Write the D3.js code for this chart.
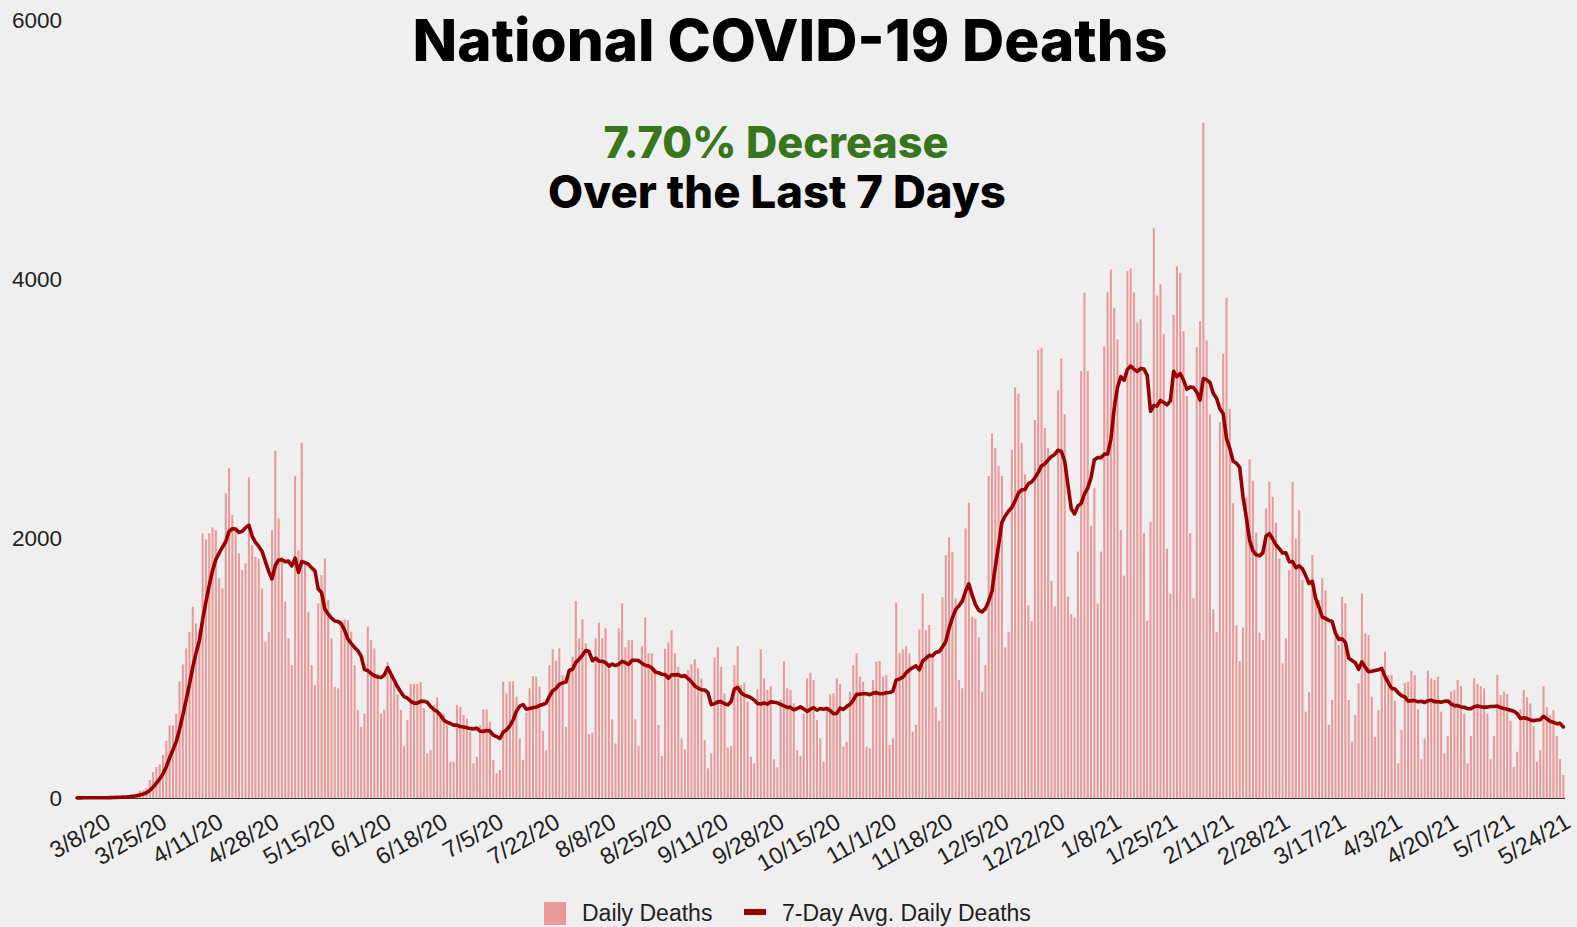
<!DOCTYPE html>
<html><head><meta charset="utf-8">
<script src="https://cdn.jsdelivr.net/npm/d3@7"></script>
<style>
html,body{margin:0;padding:0;background:#efefef;}
svg{display:block;}
</style></head><body>
<svg id="chart" width="1577" height="927"></svg>
<script>
// ---------------- DATA ----------------
const startDate = "2020-02-29";   // first day of the series
const dailyDeaths = [
  1,
  1, 4, 1, 3, 1, 2, 3,
  2, 4, 5, 8, 9, 11, 10,
  12, 18, 26, 33, 54, 60, 79,
  139, 200, 240, 260, 330, 440, 560,
  560, 650, 900, 1030, 1154, 1282, 1475,
  1347, 1300, 2041, 1994, 2041, 2087, 2066,
  1694, 1617, 2349, 2542, 2182, 2070, 1886,
  1758, 1809, 2472, 1950, 1860, 1847, 1616,
  1205, 1282, 2066, 2678, 2156, 1860, 1513,
  1231, 1025, 2482, 1912, 2740, 1800, 1436,
  1025, 871, 1501, 1719, 1847, 1526, 1231,
  858, 845, 1370, 1377, 1372, 1282, 1025,
  678, 549, 652, 1321, 1218, 1154, 961,
  650, 680, 1050, 980, 880, 800, 680,
  400, 600, 880, 880, 880, 894, 691,
  344, 370, 717, 776, 665, 652, 562,
  280, 280, 717, 704, 640, 614, 511,
  267, 318, 562, 683, 683, 588, 293,
  190, 215, 897, 807, 900, 900, 780,
  460, 293, 657, 846, 940, 936, 858,
  519, 370, 1025, 1146, 1059, 1154, 948,
  550, 1000, 1090, 1520, 1231, 1380, 1193,
  493, 504, 1231, 1352, 1231, 1308, 1000,
  607, 421, 1308, 1501, 1162, 1218, 1218,
  607, 401, 1172, 1393, 1116, 1116, 1000,
  563, 324, 1150, 1200, 1295, 1116, 1013,
  460, 375, 987, 1030, 1069, 1000, 922,
  447, 229, 344, 1084, 1162, 1013, 807,
  390, 401, 1025, 1172, 871, 889, 743,
  318, 267, 840, 1146, 922, 833, 864,
  298, 236, 760, 1056, 846, 833, 730,
  370, 324, 650, 922, 966, 910, 600,
  460, 280, 700, 800, 807, 922, 879,
  396, 434, 820, 1025, 1116, 936, 897,
  396, 383, 910, 1051, 1056, 936, 948,
  409, 460, 1506, 1116, 1146, 1172, 1116,
  512, 563, 1300, 1578, 1295, 1334, 1100,
  699, 596, 1547, 1874, 2010, 1899, 1540,
  910, 846, 2079, 2277, 1398, 1385, 1239,
  820, 1025, 2483, 2812, 2700, 2560, 2484,
  1161, 1282, 2686, 3167, 3118, 2740, 2498,
  1485, 1364, 2916, 3456, 3469, 2854, 2700,
  1674, 1477, 3145, 3389, 2961, 1553, 1418,
  1391, 1900, 3294, 3896, 3294, 2100, 2390,
  1500, 1900, 3483, 3901, 4076, 3780, 3537,
  2066, 1715, 4063, 4083, 3899, 3667, 3692,
  2042, 1367, 2128, 4394, 3875, 3961, 3581,
  1921, 1575, 3726, 4100, 4050, 3600, 3100,
  2042, 1540, 3478, 3678, 5207, 3529, 2958,
  1454, 1281, 2900, 3426, 3858, 3000, 2274,
  1333, 1056, 1315, 2318, 2612, 2447, 2047,
  1275, 1218, 2233, 2439, 2323, 2123, 1848,
  1038, 1231, 1758, 2439, 2000, 2221, 1681,
  666, 815, 1874, 1514, 1527, 1694, 1600,
  563, 756, 1244, 1180, 1552, 1501, 756,
  434, 640, 884, 1578, 1270, 1257, 781,
  473, 678, 961, 1128, 948, 948, 750,
  267, 524, 889, 897, 982, 948, 684,
  298, 460, 982, 923, 910, 936, 666,
  345, 478, 820, 833, 910, 864, 650,
  267, 478, 923, 880, 864, 846, 650,
  298, 478, 950, 794, 820, 802, 596,
  241, 357, 684, 833, 776, 730, 555,
  280, 370, 864, 700, 640, 678, 478,
  300, 177
];
const avgWindow = 7;
const yTickValues = [0, 2000, 4000, 6000];
const xTickLabels = ["3/8/20","3/25/20","4/11/20","4/28/20","5/15/20","6/1/20","6/18/20",
  "7/5/20","7/22/20","8/8/20","8/25/20","9/11/20","9/28/20","10/15/20","11/1/20","11/18/20",
  "12/5/20","12/22/20","1/8/21","1/25/21","2/11/21","2/28/21","3/17/21","4/3/21","4/20/21",
  "5/7/21","5/24/21"];
const titleText = "National COVID-19 Deaths";
const subtitleLines = ["7.70% Decrease", "Over the Last 7 Days"];
const seriesNames = ["Daily Deaths", "7-Day Avg. Daily Deaths"];

// ---------------- DRAW ----------------
const W = 1577, H = 927;
const M = {left: 75.5, right: 1565, top: 20, bottom: 798};
const barColor = "#ea9999", lineColor = "#990000";
const axisFont = "Liberation Sans, Arial, sans-serif";
const svg = d3.select("#chart");
svg.append("rect").attr("width", W).attr("height", H).attr("fill", "#efefef");

const start = d3.utcParse("%Y-%m-%d")(startDate);
const fmt = d3.utcFormat("%-m/%-d/%y");
const cats = dailyDeaths.map((d, i) => fmt(d3.utcDay.offset(start, i)));
const avg = dailyDeaths.map((d, i) => d3.mean(dailyDeaths.slice(Math.max(0, i - avgWindow + 1), i + 1)));

const x = d3.scaleBand().domain(cats).range([M.left, M.right]).paddingInner(0.38).paddingOuter(0.19);
const y = d3.scaleLinear().domain([0, 6000]).range([M.bottom, M.top]);

// bars
svg.append("g").selectAll("rect").data(dailyDeaths).join("rect")
  .attr("x", (d, i) => x(cats[i]))
  .attr("width", x.bandwidth())
  .attr("y", d => y(d))
  .attr("height", d => y(0) - y(d))
  .attr("fill", barColor);

// baseline
svg.append("line").attr("x1", M.left).attr("x2", M.right)
  .attr("y1", y(0) + 0.5).attr("y2", y(0) + 0.5)
  .attr("stroke", "#333").attr("stroke-width", 1);

// avg line
const line = d3.line()
  .x((d, i) => x(cats[i]) + x.bandwidth() / 2)
  .y(d => y(d));
svg.append("path").datum(avg)
  .attr("d", line)
  .attr("fill", "none")
  .attr("stroke", lineColor)
  .attr("stroke-width", 3.6)
  .attr("stroke-linejoin", "round")
  .attr("stroke-linecap", "round");

// y axis labels
const yAxis = d3.axisLeft(y).tickValues(yTickValues).tickSize(0).tickPadding(0).tickFormat(d3.format("d"));
const gy = svg.append("g").attr("transform", `translate(62,0)`).call(yAxis);
gy.select(".domain").remove();
gy.selectAll("text").attr("font-family", axisFont)
  .attr("font-size", 22.5).attr("fill", "#222");

// x axis labels
const xAxis = d3.axisBottom(x).tickValues(xTickLabels).tickSize(0);
const gx = svg.append("g").attr("transform", `translate(0,${y(0)})`).call(xAxis);
gx.select(".domain").remove();
gx.selectAll("text")
  .attr("font-family", axisFont)
  .attr("font-size", 23.5).attr("fill", "#222")
  .attr("text-anchor", "end")
  .attr("x", 0).attr("y", 0).attr("dy", "0.71em")
  .attr("transform", "translate(0.5,14) rotate(-30)");

// titles
function fitText(sel, target) {
  const n = sel.node();
  const len = n.getComputedTextLength();
  const fs = parseFloat(sel.attr("font-size"));
  sel.attr("font-size", fs * target / len);
}
const tFont = "Inter, 'Open Sans', sans-serif";
const t1 = svg.append("text").attr("x", 790).attr("y", 61).attr("text-anchor", "middle")
  .attr("font-family", tFont).attr("font-weight", 800).attr("font-size", 54)
  .attr("fill", "#000").text(titleText);
fitText(t1, 755);
const t2 = svg.append("text").attr("x", 776).attr("y", 158).attr("text-anchor", "middle")
  .attr("font-family", tFont).attr("font-weight", 800).attr("font-size", 42)
  .attr("fill", "#38761d").text(subtitleLines[0]);
fitText(t2, 345);
const t3 = svg.append("text").attr("x", 777).attr("y", 208).attr("text-anchor", "middle")
  .attr("font-family", tFont).attr("font-weight", 800).attr("font-size", 42)
  .attr("fill", "#000").text(subtitleLines[1]);
fitText(t3, 458);

// legend
const lg = svg.append("g");
lg.append("rect").attr("x", 544).attr("y", 902).attr("width", 22).attr("height", 23).attr("fill", barColor);
lg.append("text").attr("x", 582).attr("y", 921)
  .attr("font-family", axisFont).attr("font-size", 23).attr("fill", "#222")
  .text(seriesNames[0]);
lg.append("line").attr("x1", 744).attr("x2", 766).attr("y1", 912).attr("y2", 912)
  .attr("stroke", lineColor).attr("stroke-width", 6);
lg.append("text").attr("x", 782).attr("y", 921)
  .attr("font-family", axisFont).attr("font-size", 23).attr("fill", "#222")
  .text(seriesNames[1]);
</script>
</body></html>
